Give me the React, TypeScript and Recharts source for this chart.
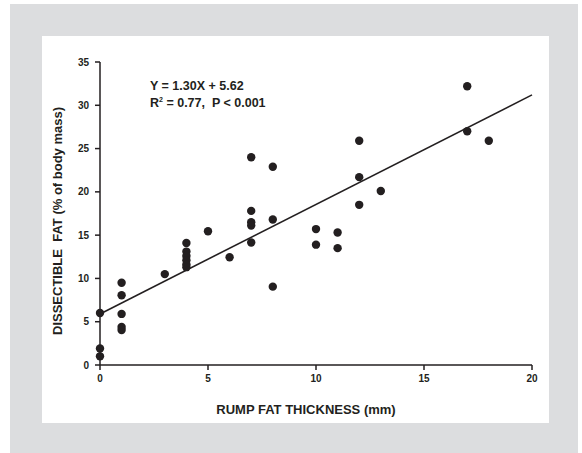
import React from "react";
import {
  ScatterChart,
  Scatter,
  XAxis,
  YAxis,
  ReferenceLine,
} from "recharts";

const rumpFat = [0, 0, 0, 1, 1, 1, 1, 1, 3, 4, 4, 4, 4, 4, 4, 5, 6, 7, 7, 7, 7, 7, 8, 8, 8, 10, 10, 11, 11, 12, 12, 12, 13, 17, 17, 18];
const dissectibleFat = [6.0, 1.9, 1.0, 9.5, 8.05, 5.9, 4.4, 4.05, 10.5, 14.1, 13.1, 12.6, 12.1, 11.6, 11.3, 15.45, 12.45, 24.0, 17.8, 16.5, 16.1, 14.15, 22.9, 16.8, 9.05, 15.7, 13.9, 15.3, 13.5, 25.9, 21.7, 18.5, 20.1, 32.2, 27.0, 25.9];
const fitLine = [
  { x: 0, y: 5.9 },
  { x: 20, y: 31.2 },
];
const xTicks = [0, 5, 10, 15, 20];
const yTicks = [0, 5, 10, 15, 20, 25, 30, 35];
const equationText = "Y = 1.30X + 5.62";
const r2Text = " = 0.77,  P < 0.001";
const xLabel = "RUMP FAT THICKNESS (mm)";
const yLabel = "DISSECTIBLE  FAT (% of body mass)";

const points = rumpFat.map((x, i) => ({ x, y: dissectibleFat[i] }));

const INK = "#231f20";
const FONT = "Arial, 'Liberation Sans', Helvetica, sans-serif";

export default function App() {
  return (
    <div style={{ position: "absolute", left: 0, top: 0, width: 582, height: 453, background: "#ffffff", overflow: "hidden" }}>
      <div style={{ position: "absolute", left: 10, top: 4, width: 568, height: 460, background: "#dcdddf" }} />
      <div style={{ position: "absolute", left: 42, top: 36, width: 507, height: 387, background: "#ffffff" }} />
      <div style={{ position: "absolute", left: 0, top: 0 }}>
        <ScatterChart
          width={582}
          height={453}
          margin={{ top: 62, right: 50, bottom: 58, left: 40 }}
        >
          <XAxis
            type="number"
            dataKey="x"
            domain={[0, 20]}
            ticks={xTicks}
            height={30}
            axisLine={{ stroke: INK, strokeWidth: 1.5 }}
            tickLine={{ stroke: INK, strokeWidth: 1.5 }}
            tickSize={5}
            tick={{ fill: INK, fontSize: 10, fontWeight: 700, fontFamily: FONT, dy: 3 }}
          />
          <YAxis
            type="number"
            dataKey="y"
            domain={[0, 35]}
            ticks={yTicks}
            width={60}
            axisLine={{ stroke: INK, strokeWidth: 1.5 }}
            tickLine={{ stroke: INK, strokeWidth: 1.5 }}
            tickSize={5}
            tick={{ fill: INK, fontSize: 10, fontWeight: 700, fontFamily: FONT, dx: -4 }}
          />
          <ReferenceLine
            segment={fitLine}
            stroke={INK}
            strokeWidth={1.6}
            ifOverflow="visible"
          />
          <Scatter
            data={points}
            fill={INK}
            isAnimationActive={false}
            shape={(props: any) => <circle cx={props.cx} cy={props.cy} r={4.2} fill={INK} />}
          />
        </ScatterChart>
      </div>
      <svg width={582} height={453} style={{ position: "absolute", left: 0, top: 0, pointerEvents: "none" }}>
        <text x={150} y={90} fill={INK} fontSize={12.5} fontWeight={700} fontFamily={FONT}>
          {equationText}
        </text>
        <text x={150} y={107} fill={INK} fontSize={12.5} fontWeight={700} fontFamily={FONT} xmlSpace="preserve" style={{ whiteSpace: "pre" }}>
          R<tspan fontSize={7} dy={-5}>2</tspan>
          <tspan dy={5}>{r2Text}</tspan>
        </text>
        <text x={306} y={414} textAnchor="middle" fill={INK} fontSize={13} fontWeight={700} fontFamily={FONT}>
          {xLabel}
        </text>
        <text
          x={62}
          y={221}
          textAnchor="middle"
          transform="rotate(-90, 62, 221)"
          fill={INK}
          fontSize={13}
          fontWeight={700}
          fontFamily={FONT}
          xmlSpace="preserve"
          style={{ whiteSpace: "pre" }}
        >
          {yLabel}
        </text>
      </svg>
    </div>
  );
}
